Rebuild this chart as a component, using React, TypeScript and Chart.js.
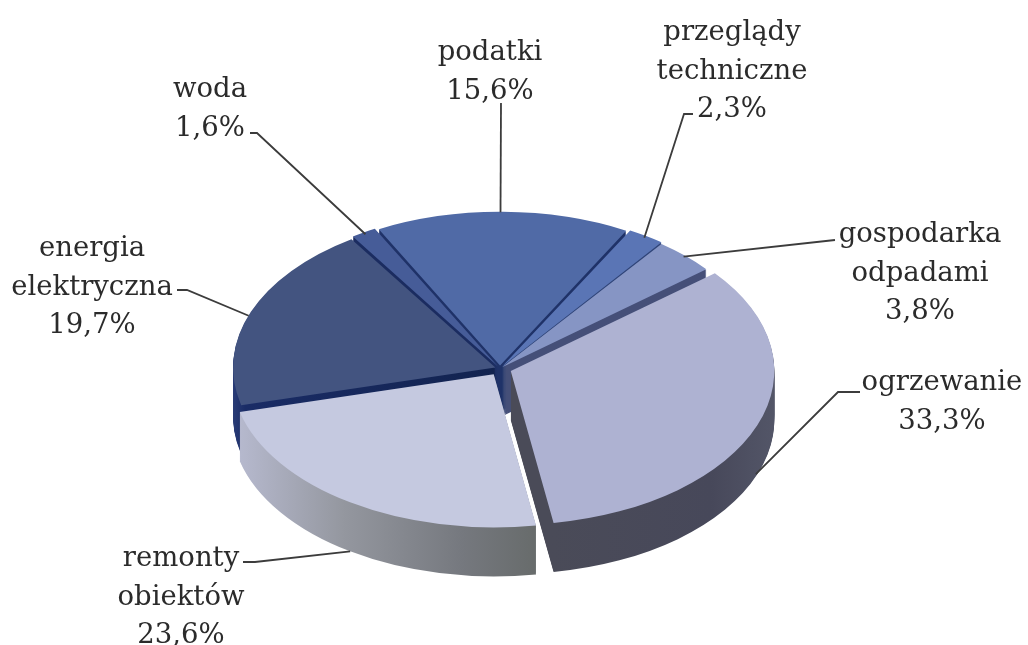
import React, { useEffect, useRef } from "react";
import { Chart, registerables } from "chart.js";

Chart.register(...registerables);

const categories = [
  ["podatki"],
  ["przeglądy", "techniczne"],
  ["gospodarka", "odpadami"],
  ["ogrzewanie"],
  ["remonty", "obiektów"],
  ["energia", "elektryczna"],
  ["woda"],
];
const shares = [15.6, 2.3, 3.8, 33.3, 23.6, 19.7, 1.6];
const topColors = ["#506aa6", "#5a75b5", "#8695c4", "#aeb2d2", "#c5c9e0", "#435480", "#465c98"];

// painter's order, back to front
const drawOrder = [0, 6, 1, 2, 5, 4, 3];
// explode distance in chart.js units (the arc moves by a quarter of it)
const explode = [20, 16, 12, 46, 46, 20, 16];

// wall gradients: [screen x start, colour], [screen x end, colour]
const wallStops: [number, string][][] = [
  [[380, "#1f3268"], [640, "#1f3268"]],
  [[620, "#2f4478"], [660, "#2f4478"]],
  [[650, "#454f78"], [710, "#454f78"]],
  [[540, "#4a4b58"], [700, "#47485a"], [775, "#55586a"]],
  [[245, "#b6b9ce"], [350, "#94979f"], [470, "#75787e"], [540, "#686c6c"]],
  [[232, "#30437e"], [250, "#1a2c66"], [500, "#12234f"]],
  [[355, "#1b2c60"], [385, "#1b2c60"]],
];

// where the label block sits and the elbow of its leader line
const labelCentres = [490, 732, 920, 942, 181, 92, 210];
const labelFirstBaselines = [60, 40, 242, 390, 566, 256, 97];
const elbows: [number, number][][] = [
  [[501, 103]],
  [[693, 114], [684, 114]],
  [[835, 240]],
  [[860, 392], [838, 392]],
  [[243, 562], [255, 562]],
  [[177, 290], [187, 290]],
  [[250, 133], [257, 133]],
];
const leaderOnWall = [false, false, false, true, true, false, false];
const leaderNudge = [-0.5, 0, 0, 0, 0, -1.5, 0];

const CX = 500;
const CY = 368.5;
const SQUASH = 0.585;
const DEPTH = 49;
const RADIUS = 262;
const LINE_HEIGHT = 38.5;
const FONT = '27.5px "DejaVu Serif"';
const TEXT_COLOR = "#2b2b2b";
const LINE_COLOR = "#3c3c3c";

const pie3d = {
  id: "pie3d",
  beforeDatasetsDraw(chart: any) {
    const ctx: CanvasRenderingContext2D = chart.ctx;
    const arcs = chart.getDatasetMeta(0).data;
    const ax = arcs[0].x;
    const ay = arcs[0].y;
    drawOrder.forEach((i) => {
      const arc = arcs[i];
      const saved = arc.options;
      const stops = wallStops[i];
      const x0 = stops[0][0];
      const x1 = stops[stops.length - 1][0];
      const g = ctx.createLinearGradient(x0 - CX + ax, 0, x1 - CX + ax, 0);
      stops.forEach(([x, c]) => g.addColorStop((x - x0) / (x1 - x0), c));
      const opt = (backgroundColor: any) => ({
        offset: saved.offset,
        spacing: saved.spacing,
        circular: saved.circular,
        borderWidth: 0,
        borderColor: saved.borderColor,
        borderAlign: saved.borderAlign,
        borderRadius: saved.borderRadius,
        backgroundColor,
      });
      for (let d = DEPTH; d >= 0; d--) {
        ctx.save();
        ctx.translate(CX, CY + d);
        ctx.scale(1, SQUASH);
        ctx.translate(-ax, -ay);
        arc.options = opt(d === 0 ? saved.backgroundColor : g);
        arc.draw(ctx);
        ctx.restore();
      }
      arc.options = saved;
    });
    return false;
  },
  afterDraw(chart: any) {
    const ctx: CanvasRenderingContext2D = chart.ctx;
    const arcs = chart.getDatasetMeta(0).data;
    const ds = chart.data.datasets[0];
    ctx.save();
    ctx.strokeStyle = LINE_COLOR;
    ctx.lineWidth = 1.8;
    arcs.forEach((arc: any, i: number) => {
      const mid = (arc.startAngle + arc.endAngle) / 2 + (leaderNudge[i] * Math.PI) / 180;
      const off = (ds.offset[i] || 0) / 4 + arc.outerRadius;
      const ex = CX + Math.cos(mid) * off;
      const ey = CY + Math.sin(mid) * off * SQUASH + (leaderOnWall[i] ? DEPTH : 0);
      ctx.beginPath();
      elbows[i].forEach(([x, y], k) => (k ? ctx.lineTo(x, y) : ctx.moveTo(x, y)));
      ctx.lineTo(ex, ey);
      ctx.stroke();
    });
    ctx.font = FONT;
    ctx.fillStyle = TEXT_COLOR;
    ctx.textAlign = "center";
    ctx.textBaseline = "alphabetic";
    categories.forEach((lines, i) => {
      const all = [...lines, shares[i].toFixed(1).replace(".", ",") + "%"];
      all.forEach((t, k) => ctx.fillText(t, labelCentres[i], labelFirstBaselines[i] + k * LINE_HEIGHT));
    });
    ctx.restore();
  },
};

export default function App() {
  const ref = useRef<HTMLCanvasElement>(null);
  useEffect(() => {
    document.body.style.margin = "0";
    document.body.style.background = "#ffffff";
    const chart = new Chart(ref.current as HTMLCanvasElement, {
      type: "pie",
      data: {
        labels: categories.map((c) => c.join(" ")),
        datasets: [
          {
            data: shares,
            backgroundColor: topColors,
            offset: explode,
            borderWidth: 0,
          } as any,
        ],
      },
      options: {
        animation: false,
        responsive: false,
        rotation: -27.5,
        radius: RADIUS,
        plugins: { legend: { display: false }, tooltip: { enabled: false } },
      } as any,
      plugins: [pie3d as any],
    });
    return () => chart.destroy();
  }, []);
  return (
    <div style={{ width: 1028, height: 645 }}>
      <canvas ref={ref} width={1028} height={645} style={{ display: "block", filter: "blur(0.5px)" }} />
    </div>
  );
}
